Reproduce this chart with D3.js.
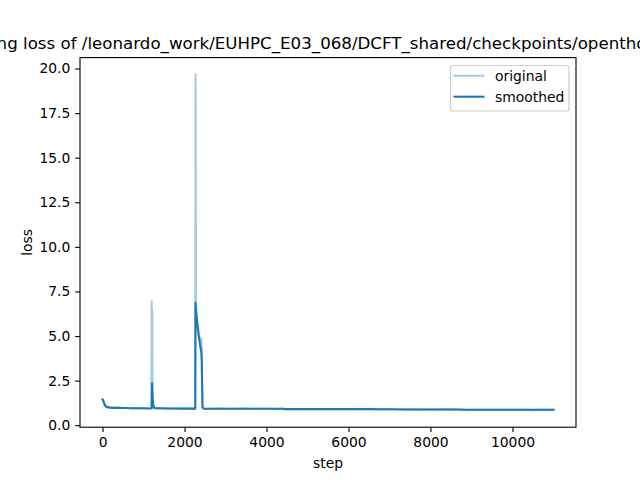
<!DOCTYPE html>
<html>
<head>
<meta charset="utf-8">
<script src="https://cdn.jsdelivr.net/npm/d3@7"></script>
<style>
  body { margin: 0; background: #fff; }
  svg { display: block; }
  text { font-family: "DejaVu Sans", sans-serif; fill: #000; }
</style>
</head>
<body>
<svg id="chart" width="640" height="480"></svg>
<script>
// ---- data ----
const titleText = "Training loss of /leonardo_work/EUHPC_E03_068/DCFT_shared/checkpoints/openthoughts3";
const seriesNames = ["original", "smoothed"];

const origSteps = [0, 20, 40, 60, 80, 100, 150, 200, 300, 400, 500, 600, 700, 800, 900, 1000, 1100, 1190,
  1200, 1205, 1210, 1215, 1220, 1240, 1300, 1400, 1500, 1600, 1700, 1800, 1900, 2000, 2100, 2200, 2260,
  2270, 2280, 2300, 2330, 2360, 2390, 2410, 2420, 2430, 2440, 2470, 2600, 2800, 3000, 3200, 3400, 3600,
  3800, 4000, 4200, 4400, 4450, 4600, 4800, 5000, 5200, 5400, 5600, 5800, 6000, 6200, 6400, 6600, 6650,
  6800, 7000, 7200, 7400, 7600, 7800, 8000, 8200, 8400, 8600, 8800, 8900, 9000, 9200, 9400, 9600, 9800,
  10000, 10200, 10400, 10500, 10600, 10800, 11000];
const origLoss = [1.45, 1.35, 1.22, 1.12, 1.06, 1.02, 1.00, 0.98, 0.97, 0.97, 0.96, 0.96, 0.95, 0.96, 0.95, 0.95, 0.94, 0.95,
  6.95, 1.10, 0.96, 6.40, 0.97, 0.95, 0.95, 0.94, 0.95, 0.94, 0.94, 0.93, 0.94, 0.93, 0.94, 0.93, 0.93,
  19.67, 6.50, 6.00, 5.50, 5.00, 4.60, 4.85, 4.30, 1.20, 0.95, 0.93, 0.92, 0.93, 0.92, 0.92, 0.93, 0.92,
  0.92, 0.92, 0.91, 0.93, 0.90, 0.90, 0.91, 0.90, 0.90, 0.91, 0.90, 0.90, 0.90, 0.91, 0.90, 0.92, 0.89,
  0.89, 0.89, 0.89, 0.88, 0.89, 0.88, 0.88, 0.88, 0.89, 0.88, 0.87, 0.84, 0.87, 0.87, 0.87, 0.87, 0.87,
  0.87, 0.87, 0.87, 0.83, 0.87, 0.87, 0.87];

const smoothSteps = [0, 20, 40, 60, 80, 100, 150, 200, 300, 400, 500, 600, 700, 800, 900, 1000, 1100, 1200,
  1208, 1220, 1240, 1270, 1300, 1400, 1600, 1800, 2000, 2200, 2262,
  2268, 2300, 2340, 2380, 2410, 2420, 2440, 2470, 2600, 2800, 3000, 3400, 3800, 4200, 4400, 4450, 4800,
  5200, 5600, 6000, 6400, 6600, 6650, 7000, 7400, 7800, 8200, 8600, 9000, 9400, 9800, 10200, 10600, 11000];
const smoothLoss = [1.45, 1.35, 1.22, 1.12, 1.06, 1.02, 1.00, 0.98, 0.97, 0.97, 0.96, 0.96, 0.95, 0.95, 0.95, 0.95, 0.94, 0.95,
  2.35, 1.60, 1.10, 0.97, 0.95, 0.95, 0.94, 0.94, 0.93, 0.93, 0.93,
  6.87, 5.90, 5.10, 4.50, 4.10, 3.60, 1.00, 0.93, 0.92, 0.92, 0.92, 0.92, 0.92, 0.92, 0.92, 0.90, 0.90,
  0.90, 0.90, 0.90, 0.90, 0.91, 0.89, 0.89, 0.88, 0.88, 0.88, 0.88, 0.87, 0.87, 0.87, 0.87, 0.87, 0.87];

const xTicks = [0, 2000, 4000, 6000, 8000, 10000];
const yTicks = [0.0, 2.5, 5.0, 7.5, 10.0, 12.5, 15.0, 17.5, 20.0];

// ---- layout ----
const axL = 80, axR = 576, axT = 57.6, axB = 427.2;
const blue = "#1f77b4";
const svg = d3.select("#chart");

const origData = origSteps.map((s, i) => ({x: s, y: origLoss[i]}));
const smoothData = smoothSteps.map((s, i) => ({x: s, y: smoothLoss[i]}));
const all = origData.concat(smoothData);

const xExt = d3.extent(all, d => d.x), yExt = d3.extent(all, d => d.y);
const xPad = (xExt[1] - xExt[0]) * 0.05, yPad = (yExt[1] - yExt[0]) * 0.05;
const x = d3.scaleLinear().domain([xExt[0] - xPad, xExt[1] + xPad]).range([axL, axR]);
const y = d3.scaleLinear().domain([yExt[0] - yPad, yExt[1] + yPad]).range([axB, axT]);

svg.append("defs").append("clipPath").attr("id", "clip")
  .append("rect").attr("x", axL).attr("y", axT).attr("width", axR - axL).attr("height", axB - axT);

const line = d3.line().x(d => x(d.x)).y(d => y(d.y));
const plot = svg.append("g").attr("clip-path", "url(#clip)");
plot.append("path").datum(origData).attr("d", line)
  .attr("fill", "none").attr("stroke", blue).attr("stroke-opacity", 0.4)
  .attr("stroke-width", 2.08).attr("stroke-linejoin", "round").attr("stroke-linecap", "square");
plot.append("path").datum(smoothData).attr("d", line)
  .attr("fill", "none").attr("stroke", blue)
  .attr("stroke-width", 2.08).attr("stroke-linejoin", "round").attr("stroke-linecap", "square");

// axes
const fs = 13.89;
const xAxis = d3.axisBottom(x).tickValues(xTicks).tickFormat(d3.format("d")).tickSize(4.86).tickPadding(4.86);
const gx = svg.append("g").attr("transform", `translate(0,${axB})`).call(xAxis);
const yAxis = d3.axisLeft(y).tickValues(yTicks).tickFormat(d3.format(".1f")).tickSize(4.86).tickPadding(4.86);
const gy = svg.append("g").attr("transform", `translate(${axL},0)`).call(yAxis);
[gx, gy].forEach(g => {
  g.select(".domain").remove();
  g.selectAll(".tick line").attr("stroke", "#000").attr("stroke-width", 1.11);
  g.selectAll(".tick text").attr("font-size", fs).attr("font-family", "DejaVu Sans, sans-serif").attr("fill", "#000");
});
gx.selectAll(".tick text").attr("dy", "0.76em");

// spines
svg.append("rect").attr("x", axL).attr("y", axT).attr("width", axR - axL).attr("height", axB - axT)
  .attr("fill", "none").attr("stroke", "#000").attr("stroke-width", 1.11);

// labels
svg.append("text").attr("x", (axL + axR) / 2).attr("y", 49.3).attr("text-anchor", "middle")
  .attr("font-size", 16.67).text(titleText);
svg.append("text").attr("x", (axL + axR) / 2).attr("y", 467.5).attr("text-anchor", "middle")
  .attr("font-size", fs).text("step");
svg.append("text").attr("transform", `translate(31.5,${(axT + axB) / 2}) rotate(-90)`)
  .attr("text-anchor", "middle").attr("font-size", fs).text("loss");

// legend
const lg = svg.append("g");
lg.append("rect").attr("x", 450.5).attr("y", 65.5).attr("width", 118.5).attr("height", 45.5)
  .attr("rx", 2.8).attr("fill", "#fff").attr("fill-opacity", 0.8).attr("stroke", "#cccccc").attr("stroke-width", 1.11);
seriesNames.forEach((name, i) => {
  const ly = 75.7 + i * 21;
  lg.append("line").attr("x1", 453.5).attr("x2", 484.5).attr("y1", ly).attr("y2", ly)
    .attr("stroke", blue).attr("stroke-opacity", i === 0 ? 0.4 : 1).attr("stroke-width", 2.08);
  lg.append("text").attr("x", 495).attr("y", ly + 5).attr("font-size", fs).text(name);
});
</script>
</body>
</html>
